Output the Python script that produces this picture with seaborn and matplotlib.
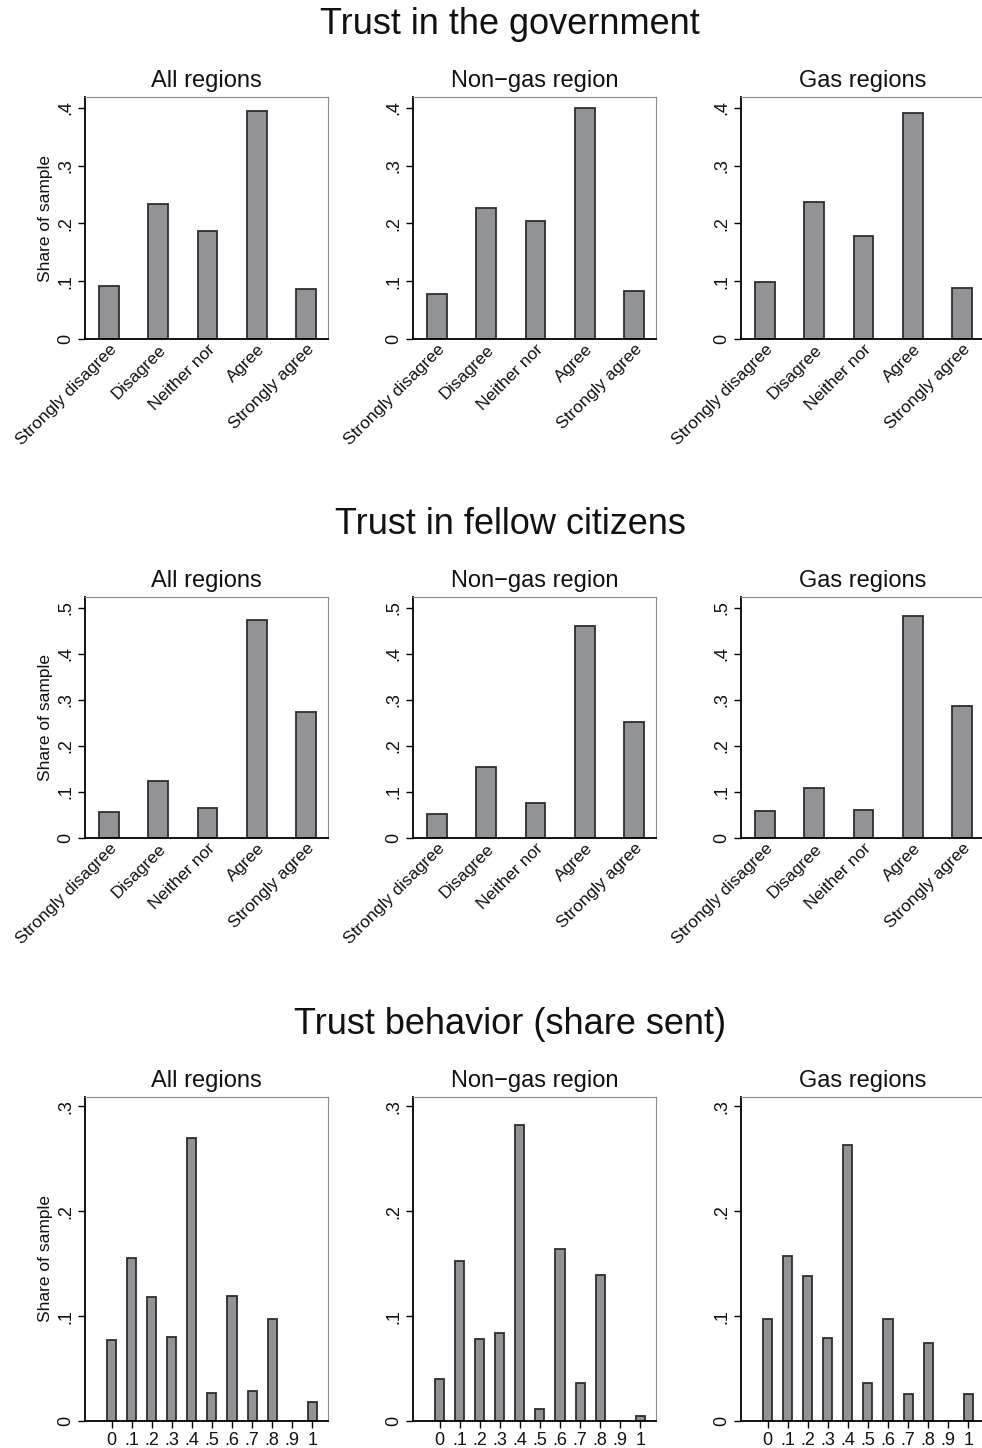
import matplotlib.pyplot as plt
import seaborn as sns

# Survey distributions by region

# categories and panel labels
answers = ["Strongly disagree", "Disagree", "Neither nor", "Agree", "Strongly agree"]
regions = ["All regions", "Non\u2212gas region", "Gas regions"]
row_titles = ["Trust in the government", "Trust in fellow citizens", "Trust behavior (share sent)"]

# Trust in the government
gov_all = [0.092, 0.234, 0.187, 0.395, 0.087]
gov_nongas = [0.078, 0.227, 0.204, 0.400, 0.083]
gov_gas = [0.099, 0.237, 0.178, 0.392, 0.088]

# Trust in fellow citizens
cit_all = [0.056, 0.124, 0.065, 0.475, 0.275]
cit_nongas = [0.052, 0.154, 0.076, 0.462, 0.252]
cit_gas = [0.059, 0.108, 0.061, 0.482, 0.286]

# Trust game: share sent
shares = [0.0, 0.1, 0.2, 0.3, 0.4, 0.5, 0.6, 0.7, 0.8, 0.9, 1.0]
share_labels = ["0", ".1", ".2", ".3", ".4", ".5", ".6", ".7", ".8", ".9", "1"]
sent_all = [0.077, 0.155, 0.118, 0.080, 0.270, 0.027, 0.119, 0.029, 0.097, 0.0, 0.018]
sent_nongas = [0.040, 0.153, 0.078, 0.084, 0.282, 0.011, 0.164, 0.036, 0.139, 0.0, 0.005]
sent_gas = [0.097, 0.157, 0.138, 0.079, 0.263, 0.036, 0.097, 0.026, 0.074, 0.0, 0.026]

# y ticks per row
yticks_gov = [0, 0.1, 0.2, 0.3, 0.4]
yticks_cit = [0, 0.1, 0.2, 0.3, 0.4, 0.5]
yticks_sent = [0, 0.1, 0.2, 0.3]

sns.set_style("white")
plt.rcParams['font.family'] = ['Liberation Sans', 'DejaVu Sans']
plt.rcParams['text.color'] = '#111111'
plt.rcParams['axes.labelcolor'] = '#111111'
plt.rcParams['xtick.color'] = '#111111'
plt.rcParams['ytick.color'] = '#111111'

BAR = '#929397'
EDGE = '#2e2e2e'

W, H = 982, 1448
fig = plt.figure(figsize=(W / 100, H / 100), dpi=100)


def add_px_axes(left, top, width, height):
    return fig.add_axes([left / W, 1 - (top + height) / H, width / W, height / H])


def tick_text(v):
    if v == 0:
        return "0"
    if v == 1:
        return "1"
    return ("%.1f" % v).lstrip("0")


def style_axes(ax, yticks, ymax, col):
    ax.set_ylim(0, ymax)
    ax.set_yticks(yticks)
    ax.set_yticklabels([tick_text(v) for v in yticks], rotation=90, va='center', fontsize=13)
    ax.tick_params(axis='y', left=True, length=5, width=1, color='black', pad=3)
    for s in ['left', 'bottom']:
        ax.spines[s].set_color('black')
        ax.spines[s].set_linewidth(1.3)
    for s in ['top', 'right']:
        ax.spines[s].set_color('#8a8a8a')
        ax.spines[s].set_linewidth(0.8)
    ax.set_xlabel("")
    if col == 0:
        ax.set_ylabel("Share of sample", fontsize=12.5, labelpad=3)
    else:
        ax.set_ylabel("")
    ax.grid(False)


col_left = [85, 413, 741]
col_width = 243

# rows 1 and 2: likert bars
likert_rows = [
    ([gov_all, gov_nongas, gov_gas], 97, 242, yticks_gov, 0.419),
    ([cit_all, cit_nongas, cit_gas], 597, 241, yticks_cit, 0.524),
]
for r, (series, top, height, yt, ymax) in enumerate(likert_rows):
    for c, vals in enumerate(series):
        ax = add_px_axes(col_left[c], top, col_width, height)
        sns.barplot(x=answers, y=vals, color=BAR, saturation=1, width=0.4,
                    edgecolor=EDGE, linewidth=1.3, ax=ax)
        ax.set_xlim(-0.48, 4.44)
        style_axes(ax, yt, ymax, c)
        ax.tick_params(axis='x', bottom=False, length=0, pad=2)
        ax.set_xticks(range(len(answers)))
        ax.set_xticklabels(answers, rotation=45, ha='right', rotation_mode='anchor', fontsize=12.5)
        ax.set_title(regions[c], fontsize=17, pad=7)

# row 3: share sent
for c, vals in enumerate([sent_all, sent_nongas, sent_gas]):
    ax = add_px_axes(col_left[c], 1097, col_width, 324)
    sns.barplot(x=shares, y=vals, native_scale=True, color=BAR, saturation=1, width=0.45,
                edgecolor=EDGE, linewidth=1.3, ax=ax)
    ax.set_xlim(-0.132, 1.078)
    style_axes(ax, yticks_sent, 0.309, c)
    ax.set_xticks(shares)
    ax.set_xticklabels(share_labels, fontsize=13)
    ax.tick_params(axis='x', bottom=True, length=5, width=1, color='black', pad=3)
    ax.set_title(regions[c], fontsize=17, pad=7)

for title, y in zip(row_titles, [34, 534, 1034]):
    fig.text(510 / W, 1 - y / H, title, ha='center', va='baseline', fontsize=26)

fig.savefig("out.png", dpi=100)
